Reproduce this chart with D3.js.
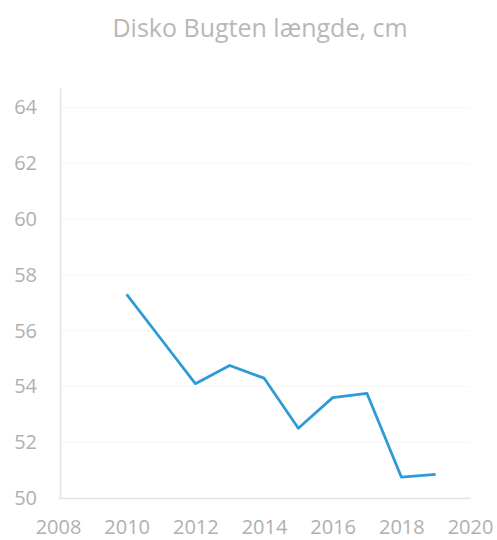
<!DOCTYPE html>
<html>
<head>
<meta charset="utf-8">
<script src="https://cdn.jsdelivr.net/npm/d3@7"></script>
<style>
  body { margin: 0; background: #fff; }
  text { font-family: "Open Sans", sans-serif; }
</style>
</head>
<body>
<div id="container"></div>
<script>
/* CONSTANTS AND GLOBALS */
const width = 497,
  height = 540,
  margin = { top: 88, bottom: 42, left: 60, right: 27 };

// data
const years = [2010, 2011, 2012, 2013, 2014, 2015, 2016, 2017, 2018, 2019];
const lengths = [57.3, 55.7, 54.1, 54.75, 54.3, 52.5, 53.6, 53.75, 50.75, 50.85];
const xTicks = [2008, 2010, 2012, 2014, 2016, 2018, 2020];
const yTicks = [50, 52, 54, 56, 58, 60, 62, 64];
const title = "Disko Bugten længde, cm";

const data = years.map((y, i) => ({ year: y, value: lengths[i] }));

const svg = d3.select("#container")
  .append("svg")
  .attr("width", width)
  .attr("height", height);

const x = d3.scaleLinear()
  .domain([2008, 2020])
  .range([margin.left - 2, width - margin.right]);

const y = d3.scaleLinear()
  .domain([50, 64.7])
  .range([height - margin.bottom, margin.top]);

// faint gridlines
svg.append("g")
  .selectAll("line")
  .data(yTicks.slice(1))
  .join("line")
  .attr("x1", margin.left)
  .attr("x2", x(2020))
  .attr("y1", d => y(d))
  .attr("y2", d => y(d))
  .attr("stroke", "#f7f7f7")
  .attr("stroke-width", 1);

// y axis
const yAxis = svg.append("g")
  .attr("transform", `translate(${margin.left},0)`)
  .call(d3.axisLeft(y).tickValues(yTicks).tickSize(0).tickPadding(23));
yAxis.select(".domain").attr("stroke", "#e2e2e2").attr("stroke-width", 1.5);
yAxis.selectAll("text").attr("fill", "#b0b0b0").style("font-size", "20px");

// x axis
const xAxis = svg.append("g")
  .attr("transform", `translate(0,${height - margin.bottom})`)
  .call(d3.axisBottom(x).tickValues(xTicks).tickFormat(d3.format("d")).tickSize(0).tickPadding(22));
xAxis.select(".domain").attr("stroke", "#e2e2e2").attr("stroke-width", 1.5);
xAxis.selectAll("text").attr("fill", "#b0b0b0").style("font-size", "20px");

// line
const line = d3.line()
  .x(d => x(d.year))
  .y(d => y(d.value));

svg.append("path")
  .datum(data)
  .attr("fill", "none")
  .attr("stroke", "#2f9bd6")
  .attr("stroke-width", 2.8)
  .attr("stroke-linejoin", "round")
  .attr("d", line);

// title
svg.append("text")
  .attr("x", 260)
  .attr("y", 37)
  .attr("text-anchor", "middle")
  .attr("fill", "#b8b8b8")
  .style("font-size", "25px")
  .text(title);
</script>
</body>
</html>
